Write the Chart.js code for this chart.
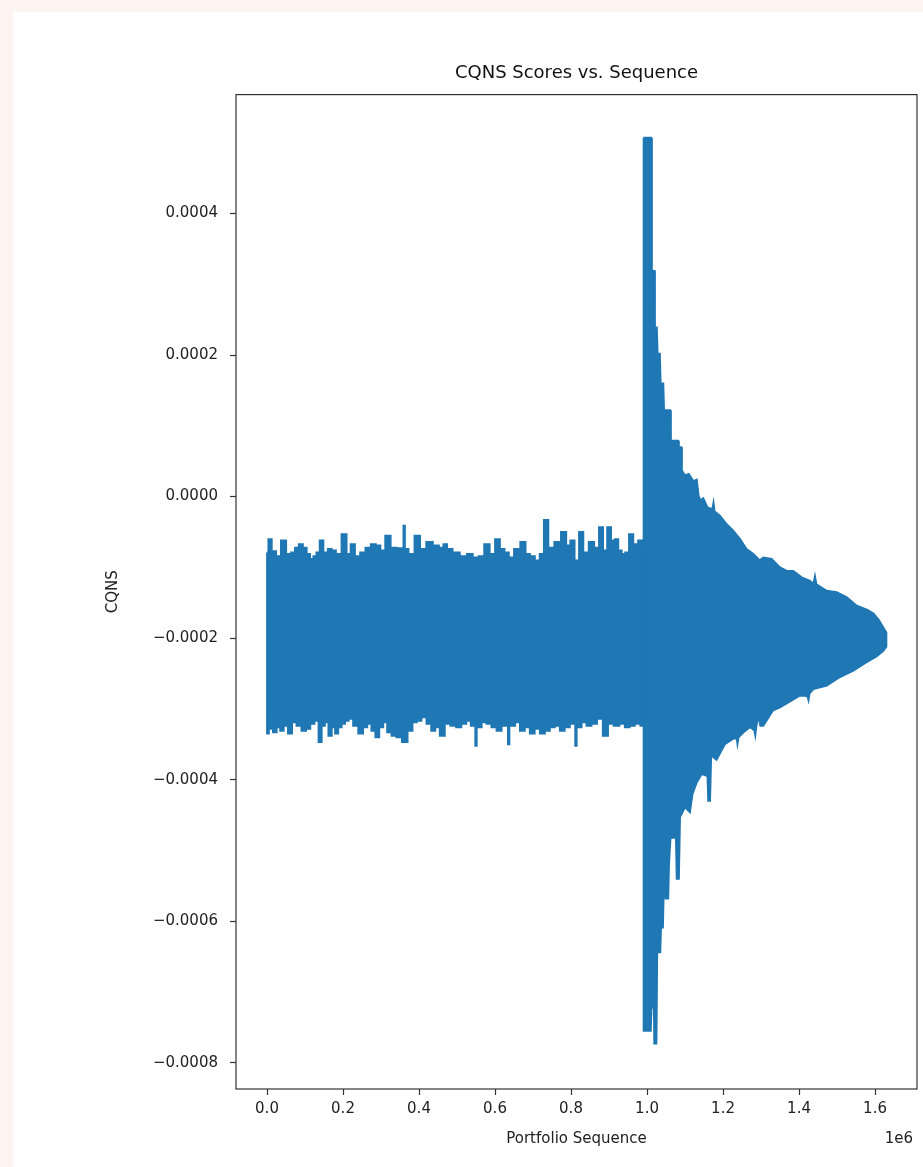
<!DOCTYPE html>
<html>
<head>
<meta charset="utf-8">
<title>CQNS Scores vs. Sequence</title>
<script src="https://cdn.jsdelivr.net/npm/chart.js@4.4.0/dist/chart.umd.min.js"></script>
<style>
	html, body { margin: 0; padding: 0; background: #fdf3f0; }
	#panel { position: absolute; left: 13px; top: 12px; width: 910px; height: 1155px; background: #fff; }
	#panel canvas { display: block; }
</style>
</head>
<body>
<div id="panel"><canvas id="cqnsChart"></canvas></div>
<script>
// CQNS trace edges. Before 1e6 the band is blocky (one value per block),
// after 1e6 it is a spike that decays towards the end of the sequence.

// Before 1e6: upper edge
const earlyUpperSeq = [
	0, 7000, 18000, 30000, 43000, 58000, 69000, 78000, 89000, 100000, 109000, 118000, 126000, 134000, 143000,
	154000, 166000, 175000, 188000, 204000, 215000, 225000, 238000, 252000, 266000, 280000, 293000, 304000,
	318000, 333000, 349000, 357000, 361000, 365000, 380000, 396000, 410000, 428000, 445000, 460000, 468000,
	480000, 497000, 518000, 534000, 549000, 564000, 579000, 593000, 607000, 619000, 631000, 642000, 658000,
	675000, 686000, 698000, 712000, 723000, 734000, 747000, 765000, 782000, 793000, 803000, 816000, 826000,
	839000, 854000, 868000, 879000, 890000, 900000, 911000, 920000, 929000, 938000, 947000, 958000, 970000,
	983000, 990000
];
const earlyUpperScore = [
	-0.79e-4, -0.60e-4, -0.77e-4, -0.84e-4, -0.62e-4, -0.81e-4, -0.79e-4, -0.72e-4, -0.67e-4, -0.72e-4, -0.81e-4, -0.88e-4, -0.84e-4, -0.79e-4, -0.62e-4,
	-0.79e-4, -0.74e-4, -0.76e-4, -0.81e-4, -0.53e-4, -0.81e-4, -0.67e-4, -0.84e-4, -0.79e-4, -0.72e-4, -0.67e-4, -0.69e-4, -0.76e-4,
	-0.55e-4, -0.72e-4, -0.73e-4, -0.73e-4, -0.41e-4, -0.74e-4, -0.81e-4, -0.55e-4, -0.74e-4, -0.64e-4, -0.69e-4, -0.72e-4, -0.67e-4,
	-0.74e-4, -0.79e-4, -0.84e-4, -0.81e-4, -0.86e-4, -0.84e-4, -0.67e-4, -0.81e-4, -0.60e-4, -0.74e-4, -0.79e-4, -0.86e-4, -0.74e-4,
	-0.64e-4, -0.81e-4, -0.84e-4, -0.90e-4, -0.81e-4, -0.33e-4, -0.72e-4, -0.64e-4, -0.50e-4, -0.69e-4, -0.62e-4, -0.90e-4, -0.50e-4,
	-0.79e-4, -0.64e-4, -0.72e-4, -0.43e-4, -0.76e-4, -0.43e-4, -0.62e-4, -0.60e-4, -0.76e-4, -0.81e-4, -0.79e-4, -0.53e-4, -0.67e-4,
	-0.62e-4, -0.62e-4
];

// Before 1e6: lower edge
const earlyLowerSeq = [
	0, 10000, 21000, 30000, 39000, 49000, 61000, 71000, 84000, 97000, 109000, 119000, 131000, 140000, 148000,
	157000, 166000, 175000, 183000, 192000, 201000, 210000, 220000, 233000, 247000, 259000, 269000, 280000,
	290000, 301000, 311000, 321000, 334000, 347000, 363000, 377000, 389000, 400000, 413000, 426000, 438000,
	448000, 461000, 475000, 490000, 505000, 518000, 531000, 541000, 546000, 550000, 554000, 559000, 571000,
	584000, 597000, 611000, 624000, 632000, 636000, 640000, 647000, 659000, 672000, 685000, 698000, 711000,
	725000, 738000, 751000, 764000, 777000, 790000, 804000, 809000, 813000, 817000, 822000, 834000, 847000,
	861000, 876000, 891000, 904000, 920000, 935000, 948000, 961000, 975000, 990000
];
const earlyLowerScore = [
	-3.35e-4, -3.28e-4, -3.33e-4, -3.26e-4, -3.31e-4, -3.24e-4, -3.35e-4, -3.19e-4, -3.24e-4, -3.31e-4, -3.28e-4, -3.21e-4, -3.17e-4, -3.47e-4, -3.24e-4,
	-3.19e-4, -3.38e-4, -3.26e-4, -3.35e-4, -3.26e-4, -3.21e-4, -3.17e-4, -3.14e-4, -3.24e-4, -3.35e-4, -3.26e-4, -3.21e-4, -3.31e-4,
	-3.40e-4, -3.26e-4, -3.19e-4, -3.33e-4, -3.38e-4, -3.40e-4, -3.47e-4, -3.31e-4, -3.19e-4, -3.17e-4, -3.12e-4, -3.21e-4, -3.31e-4,
	-3.26e-4, -3.38e-4, -3.21e-4, -3.24e-4, -3.26e-4, -3.21e-4, -3.17e-4, -3.24e-4, -3.24e-4, -3.52e-4, -3.26e-4, -3.26e-4, -3.19e-4,
	-3.21e-4, -3.26e-4, -3.31e-4, -3.24e-4, -3.24e-4, -3.50e-4, -3.24e-4, -3.24e-4, -3.19e-4, -3.31e-4, -3.26e-4, -3.35e-4, -3.28e-4,
	-3.35e-4, -3.31e-4, -3.26e-4, -3.24e-4, -3.31e-4, -3.26e-4, -3.21e-4, -3.21e-4, -3.52e-4, -3.26e-4, -3.26e-4, -3.19e-4, -3.24e-4,
	-3.21e-4, -3.14e-4, -3.38e-4, -3.21e-4, -3.24e-4, -3.21e-4, -3.26e-4, -3.24e-4, -3.21e-4, -3.24e-4
];

// From 1e6 on: upper edge
const lateUpperSeq = [
	991000, 1011000, 1013000, 1020000, 1021000, 1026000, 1028000, 1034000, 1036000, 1043000, 1045000, 1061000,
	1063000, 1082000, 1084000, 1090000, 1092000, 1100000, 1110000, 1122000, 1131000, 1136000, 1140000, 1148000,
	1159000, 1168000, 1172000, 1175000, 1178000, 1192000, 1210000, 1227000, 1245000, 1262000, 1280000, 1297000,
	1306000, 1328000, 1350000, 1368000, 1385000, 1407000, 1429000, 1438000, 1442000, 1446000, 1473000, 1499000,
	1525000, 1552000, 1580000, 1596000, 1610000, 1622000, 1630000
];
const lateUpperScore = [
	5.07e-4, 5.07e-4, 3.19e-4, 3.19e-4, 2.39e-4, 2.39e-4, 2.02e-4, 2.02e-4, 1.60e-4, 1.60e-4, 1.22e-4, 1.22e-4,
	0.79e-4, 0.79e-4, 0.70e-4, 0.70e-4, 0.37e-4, 0.30e-4, 0.32e-4, 0.22e-4, 0.24e-4, 0.01e-4, -0.05e-4, -0.02e-4,
	-0.15e-4, -0.17e-4, -0.17e-4, -0.08e-4, -0.21e-4, -0.27e-4, -0.39e-4, -0.48e-4, -0.60e-4, -0.74e-4, -0.81e-4, -0.90e-4,
	-0.86e-4, -0.88e-4, -1.00e-4, -1.05e-4, -1.05e-4, -1.14e-4, -1.19e-4, -1.23e-4, -1.12e-4, -1.24e-4, -1.33e-4, -1.35e-4,
	-1.42e-4, -1.54e-4, -1.60e-4, -1.65e-4, -1.74e-4, -1.85e-4, -1.92e-4
];

// From 1e6 on: lower edge
const lateLowerSeq = [
	991000, 1010000, 1012000, 1018000, 1019000, 1025000, 1027000, 1035000, 1037000, 1042000, 1044000, 1047000,
	1049000, 1056000, 1058000, 1062000, 1076000, 1078000, 1084000, 1087000, 1100000, 1113000, 1120000, 1131000,
	1144000, 1159000, 1161000, 1166000, 1169000, 1183000, 1205000, 1227000, 1236000, 1238000, 1241000, 1254000,
	1271000, 1282000, 1285000, 1288000, 1294000, 1298000, 1306000, 1332000, 1350000, 1372000, 1403000, 1422000,
	1425000, 1428000, 1438000, 1473000, 1508000, 1543000, 1578000, 1604000, 1622000, 1630000
];
const lateLowerScore = [
	-7.55e-4, -7.55e-4, -7.22e-4, -7.22e-4, -7.73e-4, -7.73e-4, -6.44e-4, -6.44e-4, -6.09e-4, -6.09e-4, -5.61e-4, -5.61e-4,
	-5.68e-4, -5.68e-4, -5.20e-4, -4.82e-4, -4.82e-4, -5.40e-4, -5.40e-4, -4.53e-4, -4.39e-4, -4.46e-4, -4.20e-4, -4.04e-4,
	-3.92e-4, -3.95e-4, -4.30e-4, -4.30e-4, -3.66e-4, -3.72e-4, -3.50e-4, -3.42e-4, -3.42e-4, -3.50e-4, -3.40e-4, -3.33e-4,
	-3.26e-4, -3.30e-4, -3.38e-4, -3.24e-4, -3.10e-4, -3.24e-4, -3.24e-4, -3.02e-4, -2.98e-4, -2.91e-4, -2.81e-4, -2.82e-4,
	-2.88e-4, -2.78e-4, -2.72e-4, -2.67e-4, -2.55e-4, -2.46e-4, -2.34e-4, -2.26e-4, -2.18e-4, -2.12e-4
];

const xTickValues = [0, 200000, 400000, 600000, 800000, 1000000, 1200000, 1400000, 1600000];
const yTickValues = [-0.0008, -0.0006, -0.0004, -0.0002, 0, 0.0002, 0.0004];
const xOffsetLabel = '1e6';

(function() {
	'use strict';

	const LINE_BLUE = '#1f77b4';
	const AXIS_COLOR = '#333';
	const TEXT_COLOR = '#222';

	Chart.defaults.font.family = "'DejaVu Sans', sans-serif";
	Chart.defaults.font.size = 15;
	Chart.defaults.color = TEXT_COLOR;

	// Closed outline: along the upper edge, back along the lower edge, then to the start
	function outline(upperSeq, upperScore, lowerSeq, lowerScore) {
		const pts = upperSeq.map((s, i) => ({x: s, y: upperScore[i]}));
		for (let i = lowerSeq.length - 1; i >= 0; i--) {
			pts.push({x: lowerSeq[i], y: lowerScore[i]});
		}
		pts.push({x: upperSeq[0], y: upperScore[0]});
		return pts;
	}

	// Matplotlib style box around the axes plus the "1e6" offset text
	const axesFrame = {
		id: 'axesFrame',
		afterDraw(chart) {
			const {ctx, chartArea} = chart;
			ctx.save();
			ctx.strokeStyle = AXIS_COLOR;
			ctx.lineWidth = 1.2;
			ctx.strokeRect(chartArea.left, chartArea.top, chartArea.right - chartArea.left, chartArea.bottom - chartArea.top);
			ctx.fillStyle = TEXT_COLOR;
			ctx.font = "15px 'DejaVu Sans'";
			ctx.textAlign = 'right';
			ctx.textBaseline = 'middle';
			ctx.fillText(xOffsetLabel, chartArea.right - 4, chart.height - 28);
			ctx.restore();
		}
	};

	const tickGrid = {
		drawOnChartArea: false,
		drawTicks: true,
		tickLength: 6,
		tickColor: AXIS_COLOR,
		tickWidth: 1.2
	};

	const traceStyle = {
		borderColor: LINE_BLUE,
		backgroundColor: LINE_BLUE,
		borderWidth: 1.8,
		pointRadius: 0,
		tension: 0,
		fill: 'shape'
	};

	const ctx = document.getElementById('cqnsChart').getContext('2d');
	new Chart(ctx, {
		type: 'line',
		data: {
			datasets: [
				Object.assign({
					label: 'CQNS before 1e6',
					data: outline(earlyUpperSeq, earlyUpperScore, earlyLowerSeq, earlyLowerScore),
					stepped: 'middle'
				}, traceStyle),
				Object.assign({
					label: 'CQNS from 1e6',
					data: outline(lateUpperSeq, lateUpperScore, lateLowerSeq, lateLowerScore)
				}, traceStyle)
			]
		},
		plugins: [axesFrame],
		options: {
			responsive: true,
			maintainAspectRatio: false,
			animation: false,
			events: [],
			layout: {
				padding: {left: 0, right: 6, top: 0, bottom: 0}
			},
			plugins: {
				legend: {
					display: false
				},
				tooltip: {
					enabled: false
				},
				title: {
					display: true,
					text: 'CQNS Scores vs. Sequence',
					fullSize: false,
					color: '#111',
					font: {
						size: 18,
						weight: 'normal'
					},
					padding: {top: 51, bottom: 10}
				}
			},
			scales: {
				x: {
					type: 'linear',
					min: -81600,
					max: 1710500,
					afterBuildTicks: function(axis) {
						axis.ticks = xTickValues.map(v => ({value: v}));
					},
					afterFit: function(axis) {
						axis.height = 78;
					},
					ticks: {
						autoSkip: false,
						maxRotation: 0,
						padding: 5,
						callback: v => (v / 1e6).toFixed(1)
					},
					grid: tickGrid,
					border: {
						display: false
					},
					title: {
						display: true,
						text: 'Portfolio Sequence',
						padding: {top: 0, bottom: 19}
					}
				},
				y: {
					type: 'linear',
					min: -0.000837,
					max: 0.000568,
					afterBuildTicks: function(axis) {
						axis.ticks = yTickValues.map(v => ({value: v}));
					},
					afterFit: function(axis) {
						axis.width = 223;
					},
					ticks: {
						padding: 12,
						callback: v => v.toFixed(4).replace('-', '\u2212')
					},
					grid: tickGrid,
					border: {
						display: false
					},
					title: {
						display: true,
						text: 'CQNS',
						padding: {top: 91, bottom: 0}
					}
				}
			}
		}
	});
})();
</script>
</body>
</html>
